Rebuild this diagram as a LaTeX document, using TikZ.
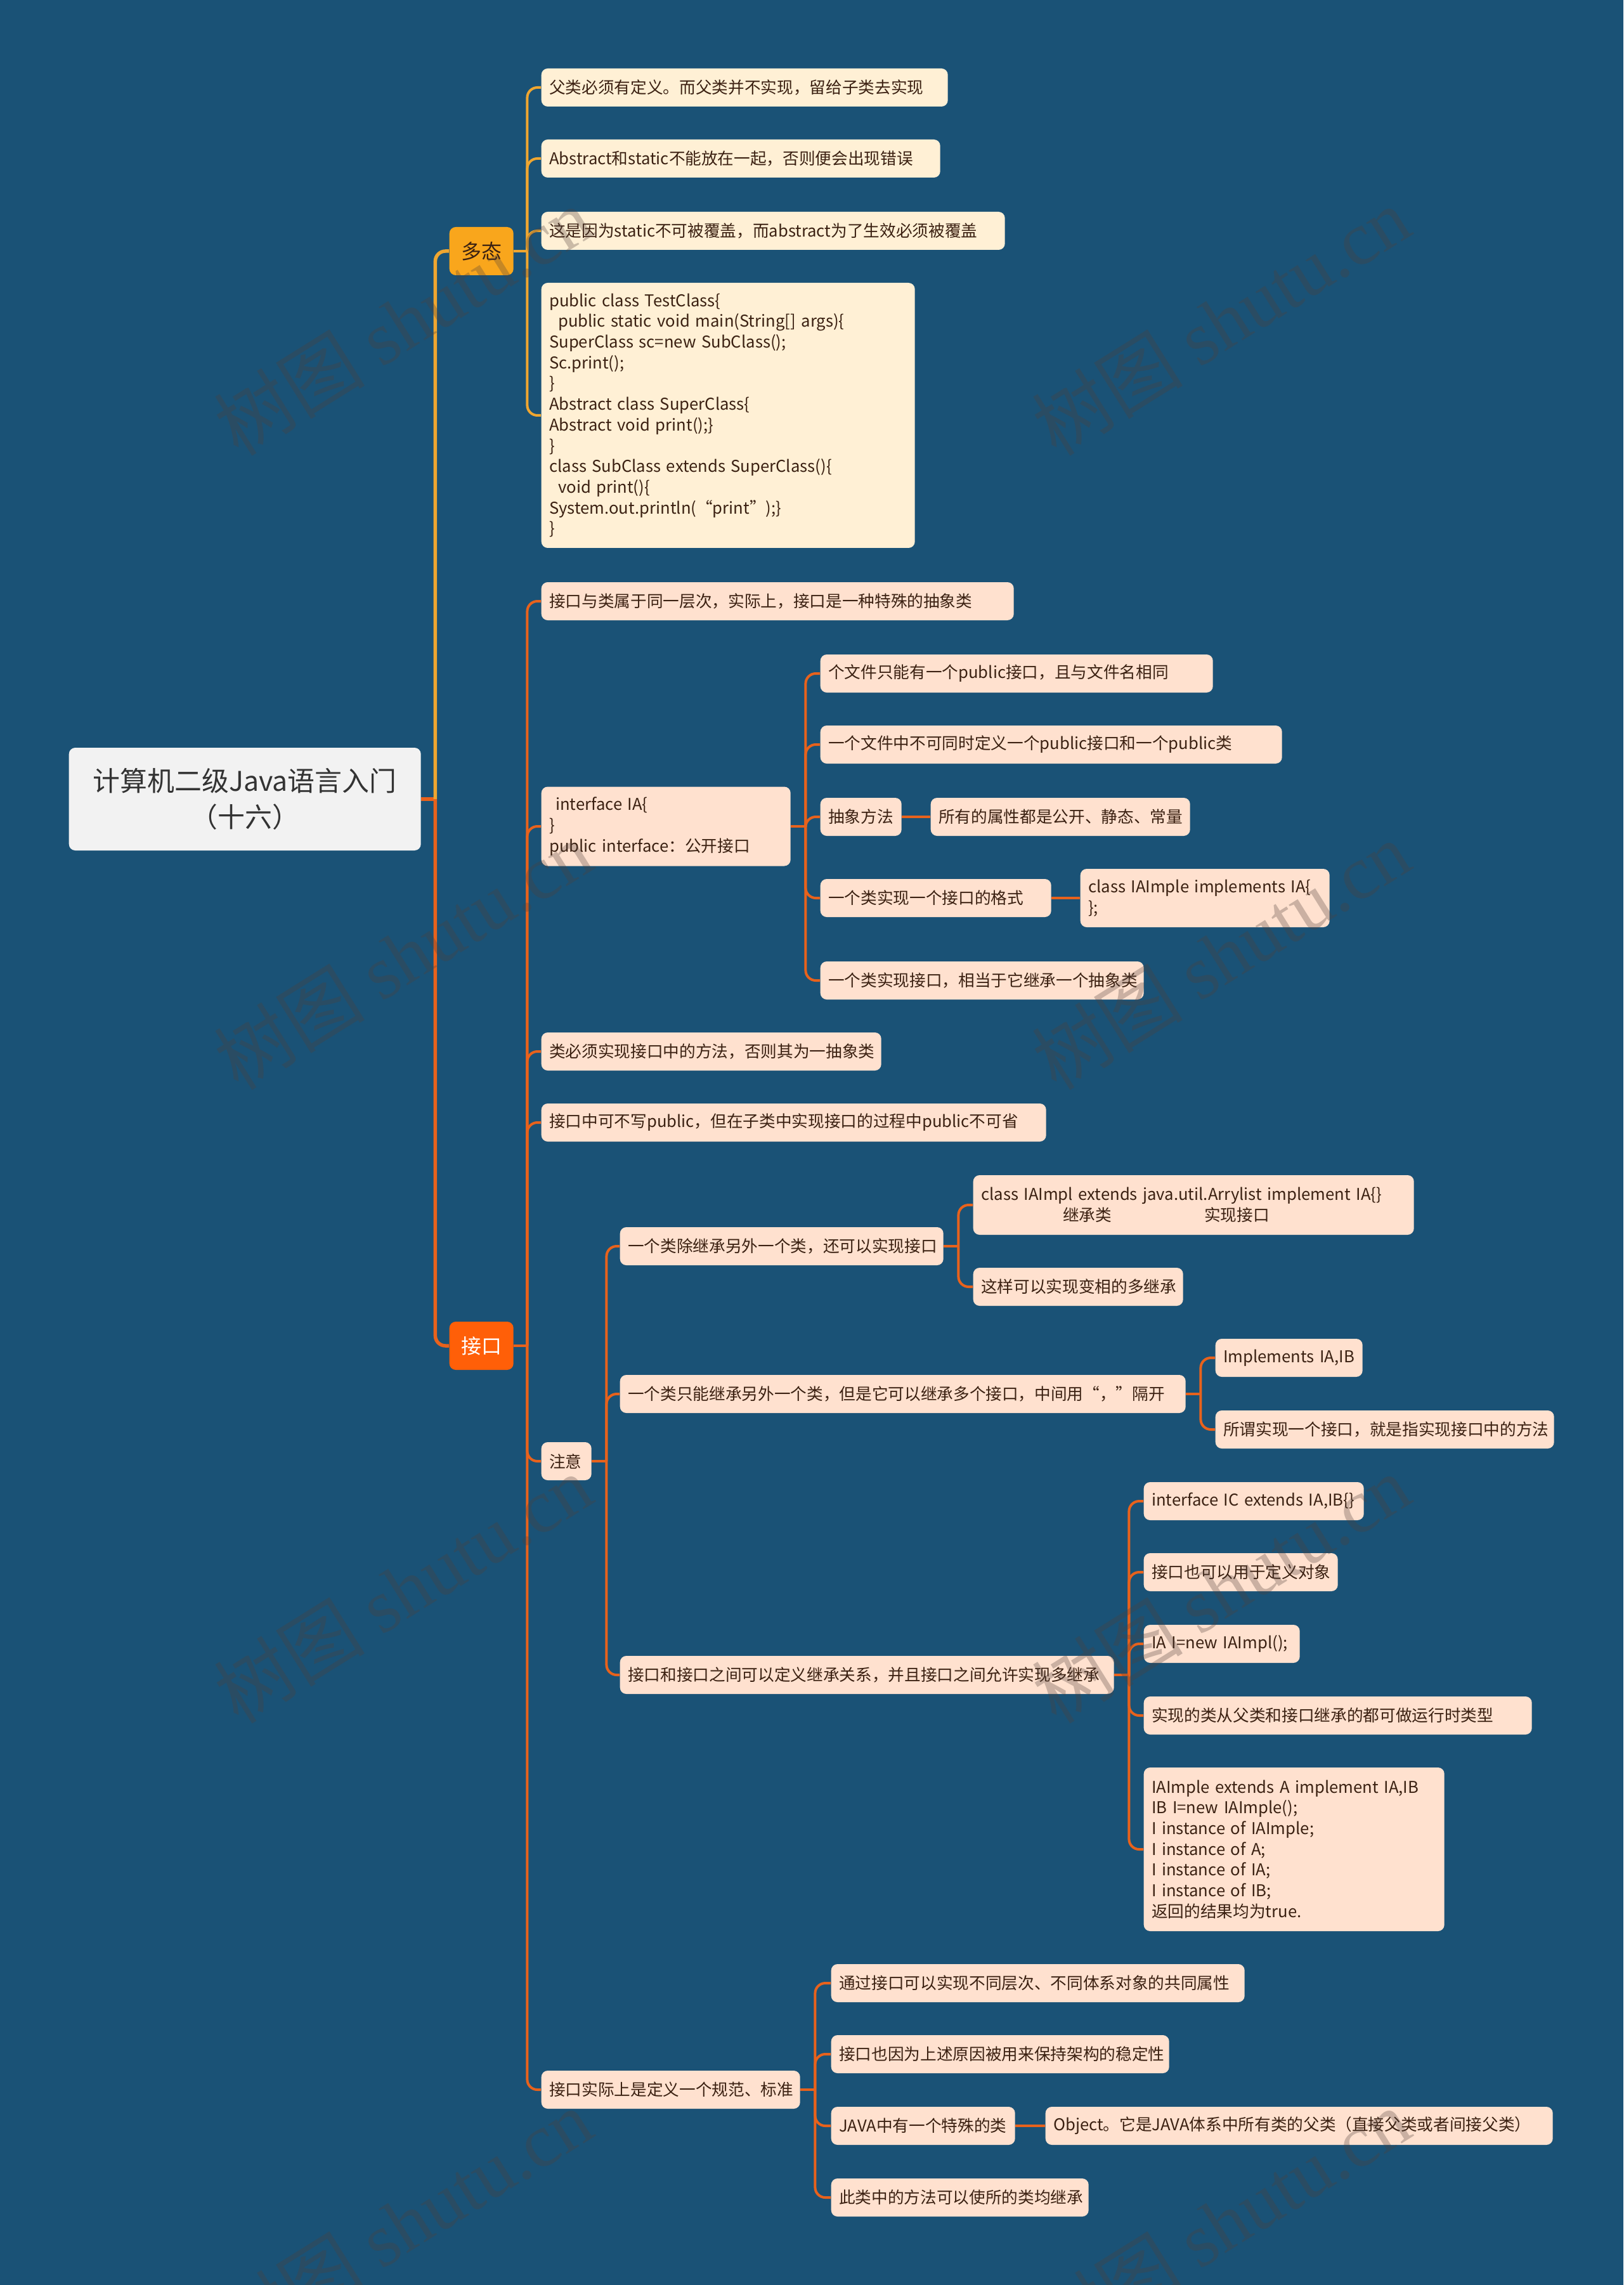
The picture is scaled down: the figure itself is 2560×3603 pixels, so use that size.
\documentclass[tikz,border=0pt]{standalone}
\usepackage{fontspec}
\setmainfont{Noto Sans CJK SC}
\newfontfamily\wmfont{Liberation Serif}
\usepackage{tikz}
\usetikzlibrary{positioning}
\definecolor{bgblue}{HTML}{1A5276}
\definecolor{rootfill}{HTML}{F2F2F2}
\definecolor{yellowx}{HTML}{F9A61C}
\definecolor{yellowln}{HTML}{EFA630}
\definecolor{orangex}{HTML}{FF5F08}
\definecolor{orangeln}{HTML}{E8621C}
\definecolor{creamx}{HTML}{FFF0D5}
\definecolor{peachx}{HTML}{FFE1CF}
\definecolor{brownx}{HTML}{3B2112}
\definecolor{markx}{HTML}{50403A}
\tikzset{
  base/.style={rounded corners=1mm,anchor=west,inner ysep=0pt},
  topic/.style={base,fill=rootfill,text=black!80,align=center,minimum width=55.5mm,minimum height=16.2mm,font=\fontsize{12.2pt}{16.3pt}\selectfont},
  branch/.style={base,inner xsep=0pt,align=center,minimum width=10.1mm,minimum height=7.6mm,font=\fontsize{9.1pt}{11pt}\selectfont},
  leaf/.style={base,inner xsep=1.25mm,align=left,minimum height=6mm,text=brownx,font=\fontsize{7.3pt}{9.3pt}\selectfont},
  dleaf/.style={leaf,fill=creamx},
  jleaf/.style={leaf,fill=peachx},
  mainln/.style={line width=0.55mm,rounded corners=1.6mm},
  dline/.style={yellowln,line width=0.4mm,rounded corners=1.6mm},
  jline/.style={orangeln,line width=0.4mm,rounded corners=1.6mm},
  wmark/.style={rotate=32,text=markx,opacity=0.3,font=\fontsize{34pt}{34pt}\selectfont}
}

\begin{document}
\begin{tikzpicture}[x=0.1mm,y=-0.1mm]
\def\jg{23}
\fill[bgblue] (0,0) rectangle (2560,3603);
\useasboundingbox (0,0) rectangle (2560,3603);

\node[topic] (root) at (108,1260) {计算机二级Java语言入门\\（十六）};
\node[branch,fill=yellowx,text=brownx] (duotai) at (708,396) {多态};
\node[branch,fill=orangex,text=white] (jiekou) at (708,2122) {接口};

\node[dleaf,text width=61.6mm] (d1) at (853,138) {父类必须有定义。而父类并不实现，留给子类去实现};
\node[dleaf,text width=60.4mm] (d2) at (853,250) {Abstract和static不能放在一起，否则便会出现错误};
\node[dleaf,text width=70.6mm] (d3) at (853,364) {这是因为static不可被覆盖，而abstract为了生效必须被覆盖};
\node[dleaf,text width=56.4mm,minimum height=41.8mm] (d4) at (853,655) {public class TestClass\{\\
\hspace*{1.4mm}public static void main(String[] args)\{\\
SuperClass sc=new SubClass();\\
Sc.print();\\
\}\\
Abstract class SuperClass\{\\
Abstract void print();\}\\
\}\\
class SubClass extends SuperClass()\{\\
\hspace*{1.4mm}void print()\{\\
System.out.println(“print”);\}\\
\}};

\node[jleaf,text width=72.0mm] (j1) at (853,948) {接口与类属于同一层次，实际上，接口是一种特殊的抽象类};
\node[jleaf,text width=36.8mm,minimum height=12.5mm] (j2) at (853,1303) {\hspace*{1mm}interface IA\{\\ \}\\ public interface：公开接口};
\node[jleaf,text width=59.4mm] (k1) at (1293,1062) {个文件只能有一个public接口，且与文件名相同};
\node[jleaf,text width=70.3mm] (k2) at (1293,1174) {一个文件中不可同时定义一个public接口和一个public类};
\node[jleaf,text width=10.3mm] (k3) at (1293,1288) {抽象方法};
\node[jleaf,text width=38.4mm] (k3a) at (1467,1288) {所有的属性都是公开、静态、常量};
\node[jleaf,text width=33.9mm] (k4) at (1293,1416) {一个类实现一个接口的格式};
\node[jleaf,text width=36.8mm,minimum height=9.2mm] (k4a) at (1703,1416) {class~IAImple~implements~IA\{\\ \};};
\node[jleaf,text width=48.5mm] (k5) at (1293,1546) {一个类实现接口，相当于它继承一个抽象类};
\node[jleaf,text width=51.1mm] (j3) at (853,1658) {类必须实现接口中的方法，否则其为一抽象类};
\node[jleaf,text width=77.1mm] (j4) at (853,1770) {接口中可不写public，但在子类中实现接口的过程中public不可省};
\node[jleaf,text width=5.4mm] (j5) at (853,2304) {注意};
\node[jleaf,text width=48.5mm] (m1) at (977,1965) {一个类除继承另外一个类，还可以实现接口};
\node[jleaf,text width=67.0mm,minimum height=9.4mm] (m1a) at (1534,1900) {class IAImpl extends java.util.Arrylist implement IA\{\}\\ \hspace*{12.9mm}继承类\hspace{14.6mm}实现接口};
\node[jleaf,text width=30.6mm] (m1b) at (1534,2029) {这样可以实现变相的多继承};
\node[jleaf,text width=86.7mm] (m2) at (977,2198) {一个类只能继承另外一个类，但是它可以继承多个接口，中间用“，”隔开};
\node[jleaf,text width=20.7mm] (m2a) at (1916,2141) {Implements~IA,IB};
\node[jleaf,text width=50.9mm] (m2b) at (1916,2254) {所谓实现一个接口，就是指实现接口中的方法};
\node[jleaf,text width=75.4mm] (m3) at (977,2641) {接口和接口之间可以定义继承关系，并且接口之间允许实现多继承};
\node[jleaf,text width=32.2mm] (m3a) at (1803,2367) {interface~IC~extends~IA,IB\{\}};
\node[jleaf,text width=28.1mm] (m3b) at (1803,2479) {接口也可以用于定义对象};
\node[jleaf,text width=22.1mm] (m3c) at (1803,2592) {IA~I=new~IAImpl();};
\node[jleaf,text width=58.7mm] (m3d) at (1803,2705) {实现的类从父类和接口继承的都可做运行时类型};
\node[jleaf,text width=44.9mm,minimum height=25.8mm] (m3e) at (1803,2916) {IAImple extends A implement IA,IB\\
IB I=new IAImple();\\
I instance of IAImple;\\
I instance of A;\\
I instance of IA;\\
I instance of IB;\\
返回的结果均为true.};
\node[jleaf,text width=38.3mm] (j6) at (853,3295) {接口实际上是定义一个规范、标准};
\node[jleaf,text width=62.7mm] (n1) at (1310,3127) {通过接口可以实现不同层次、不同体系对象的共同属性};
\node[jleaf,text width=50.8mm] (n2) at (1310,3239) {接口也因为上述原因被用来保持架构的稳定性};
\node[jleaf,text width=26.5mm] (n3) at (1310,3352) {JAVA中有一个特殊的类};
\node[jleaf,text width=77.5mm] (n3a) at (1648,3352) {Object。它是JAVA体系中所有类的父类（直接父类或者间接父类）};
\node[jleaf,text width=38.1mm] (n4) at (1310,3465) {此类中的方法可以使所的类均继承};

\path (root.east) ++(22,0) coordinate (rj);
\draw[mainln,orangeln] (root.east) -- (rj);
\draw[mainln,yellowln] (rj) |- (duotai.west);
\draw[mainln,orangeln] (rj) |- (jiekou.west);

\path (duotai.east) ++(21,0) coordinate (dj);
\draw[dline] (duotai.east) -- (dj);
\foreach \c in {d1,d2,d3,d4} \draw[dline] (dj) |- (\c.west);

\path (jiekou.east) ++(21,0) coordinate (jj);
\draw[jline] (jiekou.east) -- (jj);
\foreach \c in {j1,j2,j3,j4,j5,j6} \draw[jline] (jj) |- (\c.west);

\path (j2.east) ++(\jg,0) coordinate (j2j);
\draw[jline] (j2.east) -- (j2j);
\foreach \c in {k1,k2,k3,k4,k5} \draw[jline] (j2j) |- (\c.west);
\draw[jline,line width=0.45mm] (k3.east) -- (k3a.west);
\draw[jline,line width=0.45mm] (k4.east) -- (k4a.west);

\path (j5.east) ++(\jg,0) coordinate (j5j);
\draw[jline] (j5.east) -- (j5j);
\foreach \c in {m1,m2,m3} \draw[jline] (j5j) |- (\c.west);

\path (m1.east) ++(\jg,0) coordinate (m1j);
\draw[jline] (m1.east) -- (m1j);
\foreach \c in {m1a,m1b} \draw[jline] (m1j) |- (\c.west);

\path (m2.east) ++(\jg,0) coordinate (m2j);
\draw[jline] (m2.east) -- (m2j);
\foreach \c in {m2a,m2b} \draw[jline] (m2j) |- (\c.west);

\path (m3.east) ++(\jg,0) coordinate (m3j);
\draw[jline] (m3.east) -- (m3j);
\foreach \c in {m3a,m3b,m3c,m3d,m3e} \draw[jline] (m3j) |- (\c.west);

\path (j6.east) ++(\jg,0) coordinate (j6j);
\draw[jline] (j6.east) -- (j6j);
\foreach \c in {n1,n2,n3,n4} \draw[jline] (j6j) |- (\c.west);
\draw[jline,line width=0.45mm] (n3.east) -- (n3a.west);

\foreach \x in {635,1925} \foreach \y in {506,1506,2505,3505}
  \node[wmark] at (\x,\y) {树图 {\wmfont shutu.cn}};
\end{tikzpicture}
\end{document}
